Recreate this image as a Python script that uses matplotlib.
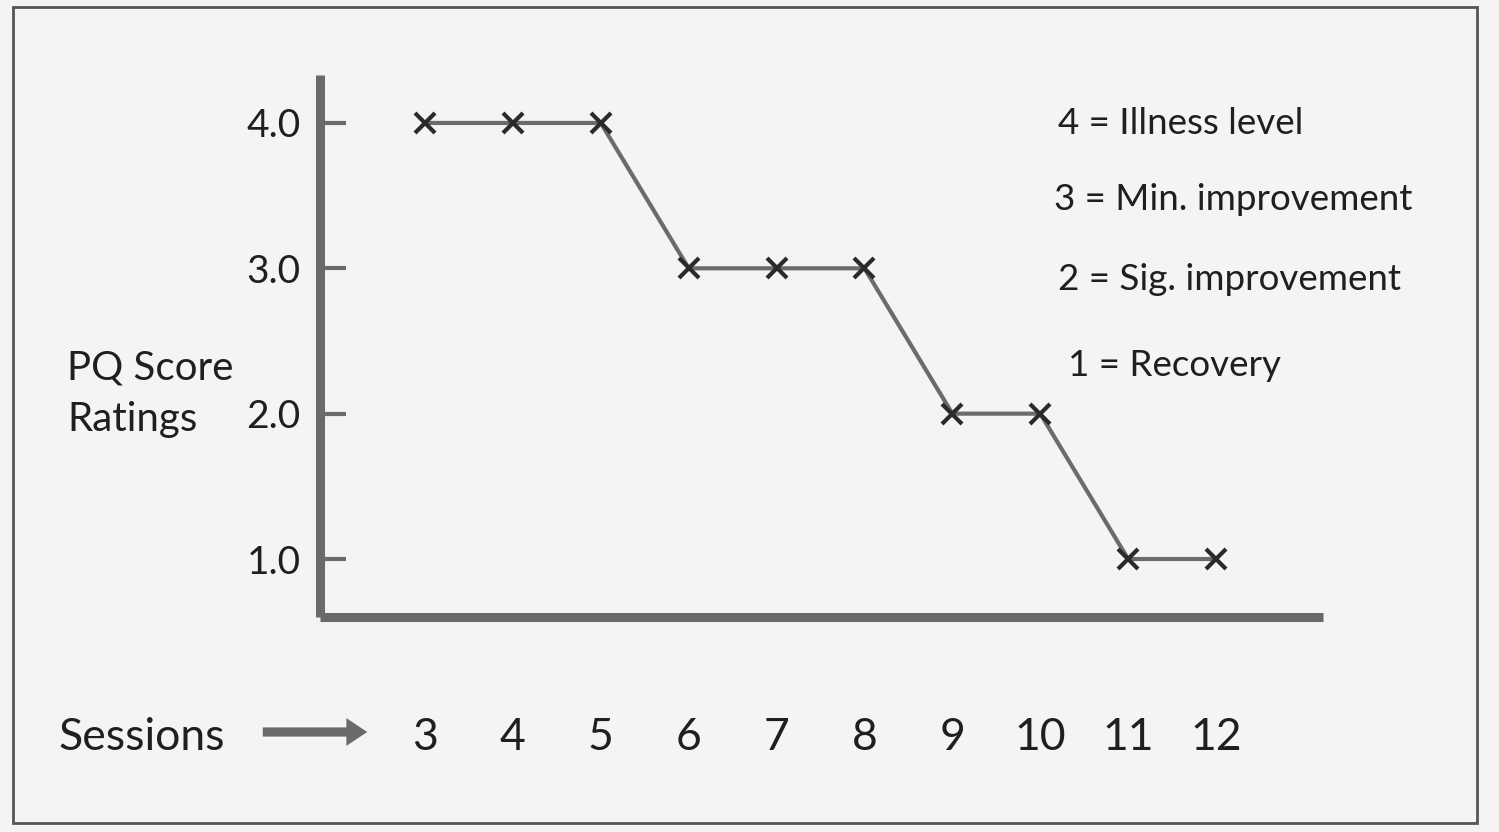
import matplotlib
matplotlib.use("Agg")
import matplotlib.pyplot as plt
from matplotlib.patches import Rectangle, FancyArrowPatch

# ── Data ──────────────────────────────────────────────────────────────────────
sessions = [3, 4, 5, 6, 7, 8, 9, 10, 11, 12]
pq_scores = [4, 4, 4, 3, 3, 3, 2, 2, 1, 1]
y_ticks = [1.0, 2.0, 3.0, 4.0]
key_labels = ["4 = Illness level", "3 = Min. improvement",
              "2 = Sig. improvement", "1 = Recovery"]

# ── Styling ───────────────────────────────────────────────────────────────────
plt.rcParams["font.family"] = ["Lato", "DejaVu Sans"]
BG = "#f4f4f2"
TXT = "#1f1f1f"
AXC = "#6a6a6a"
W, H = 1499, 832

fig = plt.figure(figsize=(W / 100, H / 100), dpi=100)
fig.patch.set_facecolor(BG)

ax = fig.add_axes([320 / W, 1 - 617 / H, (1323 - 320) / W, (617 - 75) / H])
ax.set_facecolor("none")

ax.plot(sessions, pq_scores, color="#6b6b6b", lw=3, zorder=2)
ax.plot(sessions, pq_scores, ls="none", marker="x", ms=14, mew=3,
        color="#2a2a2a", zorder=3)

ax.set_xlim(1.805, 13.217)
ax.set_ylim(0.601, 4.330)

for s in ["top", "right"]:
    ax.spines[s].set_visible(False)
for s in ["left", "bottom"]:
    ax.spines[s].set_linewidth(6.5)
    ax.spines[s].set_color(AXC)
    ax.spines[s].set_capstyle("butt")

ax.set_yticks(y_ticks)
ax.set_yticklabels([f"{v:.1f}" for v in y_ticks])
ax.tick_params(axis="y", direction="in", length=19, width=3, color=AXC,
               pad=14, labelsize=28, labelcolor=TXT)
ax.set_xticks(sessions)
ax.set_xticklabels([str(s) for s in sessions])
ax.tick_params(axis="x", length=0, pad=72, labelsize=32, labelcolor=TXT)

# y label (two lines, left of tick labels)
fig.text(67 / W, 1 - 368 / H, "PQ Score", ha="left", va="center",
         fontsize=29, color=TXT)
fig.text(67 / W, 1 - 420 / H, "Ratings", ha="left", va="center",
         fontsize=29, color=TXT)

# "Sessions →"
fig.text(58 / W, 1 - 737 / H, "Sessions", ha="left", va="center",
         fontsize=32, color=TXT)
fig.patches.append(FancyArrowPatch(
    (260 / W, 1 - 732 / H), (370 / W, 1 - 732 / H),
    transform=fig.transFigure,
    arrowstyle="simple,head_length=0.75,head_width=1.0,tail_width=0.33",
    mutation_scale=20, color=AXC, lw=0))

# score key
key_x = [1058, 1054, 1058, 1068]
key_y = [124, 200, 279, 365]
for lbl, kx, ky in zip(key_labels, key_x, key_y):
    fig.text(kx / W, 1 - ky / H, lbl, ha="left", va="center",
             fontsize=26.5, color=TXT)

# outer frame
fig.patches.append(Rectangle((13 / W, 1 - 823 / H), (1477 - 13) / W, (823 - 7) / H,
                             transform=fig.transFigure, fill=False,
                             edgecolor="#555555", lw=2))

fig.savefig("out.png", dpi=100, facecolor=fig.get_facecolor())
